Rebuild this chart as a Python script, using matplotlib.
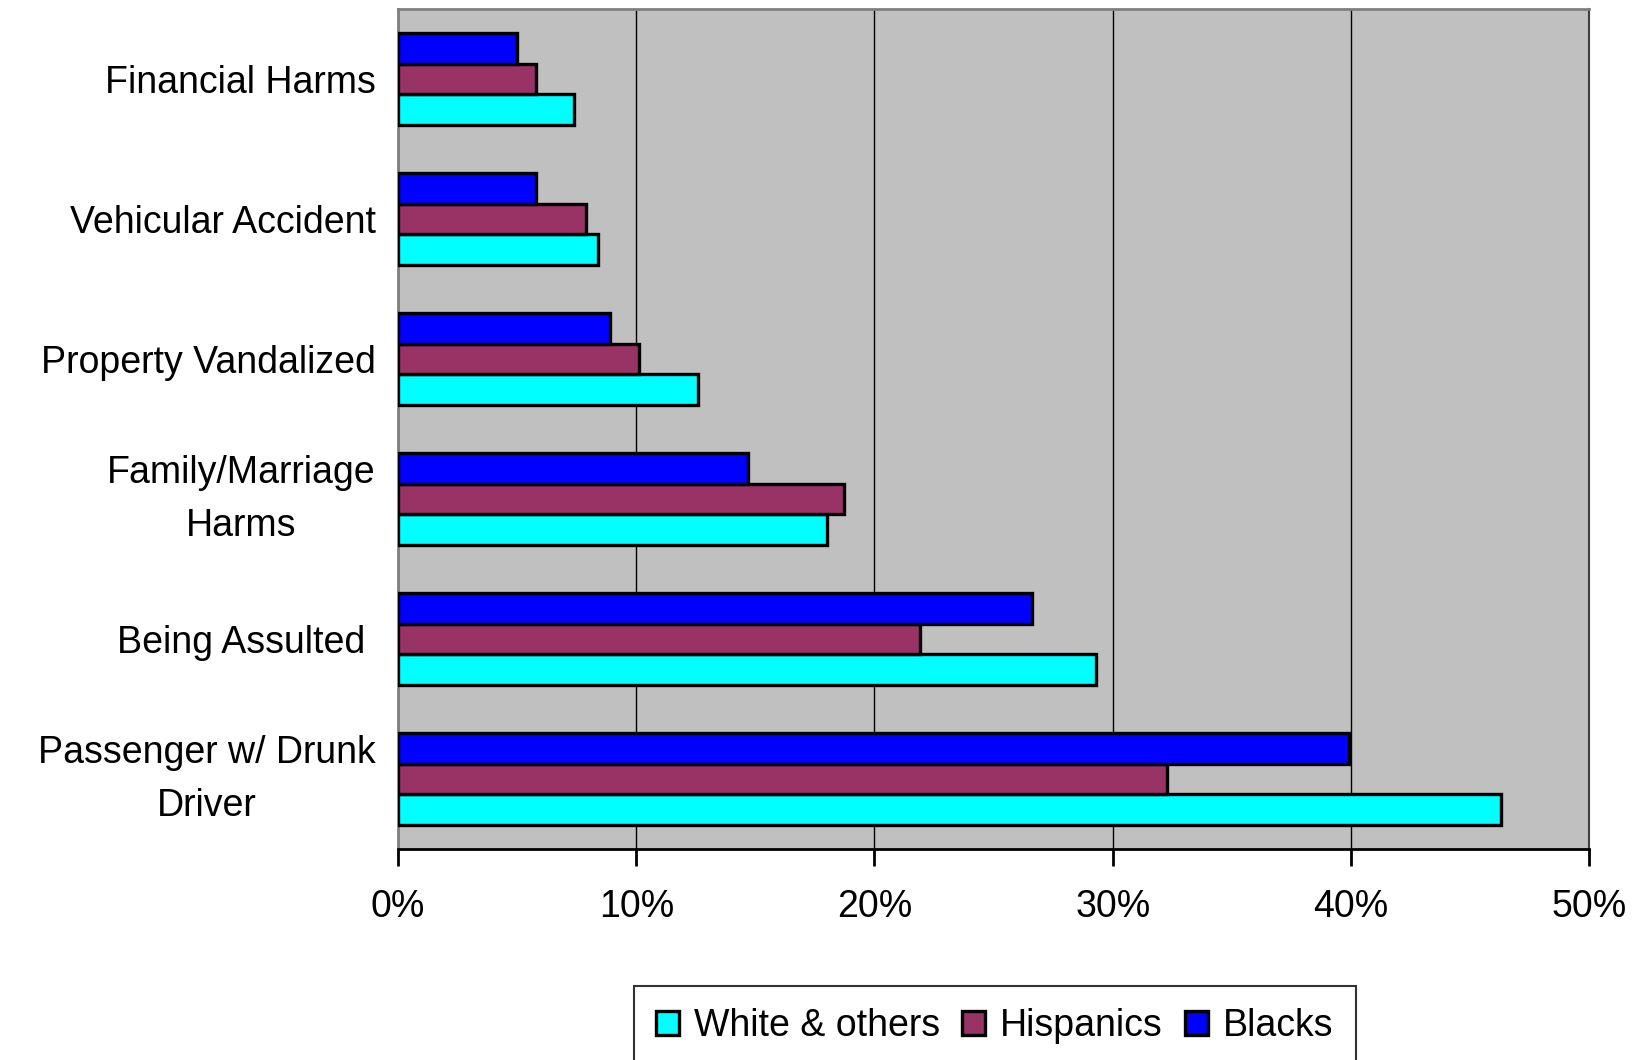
import matplotlib.pyplot as plt
import matplotlib.transforms as mtransforms
import numpy as np
from matplotlib.ticker import FuncFormatter

plt.rcParams["font.family"] = ["Liberation Sans", "DejaVu Sans"]

# Data (percent)
categories = [
    "Financial Harms",
    "Vehicular Accident",
    "Property Vandalized",
    "Family/Marriage\nHarms",
    "Being Assulted ",
    "Passenger w/ Drunk\nDriver",
]
white_others = [7.4, 8.4, 12.6, 18.0, 29.3, 46.3]
hispanics = [5.8, 7.9, 10.1, 18.7, 21.9, 32.3]
blacks = [5.0, 5.8, 8.9, 14.7, 26.6, 39.9]

series_names = ["White & others", "Hispanics", "Blacks"]
series_colors = ["#00FFFF", "#993366", "#0000FF"]

fig = plt.figure(figsize=(16.4, 10.6), dpi=100)
ax = fig.add_axes([0.2427, 0.199, 0.7263, 0.7925])
ax.set_facecolor("#C0C0C0")

y = np.arange(len(categories))
h = 0.217
offsets = [h, 0.0, -h]
handles = []
for values, name, color, off in zip(
    [white_others, hispanics, blacks], series_names, series_colors, offsets
):
    bars = ax.barh(
        y + off, values, height=h, color=color, edgecolor="black",
        linewidth=2.4, label=name, zorder=3,
    )
    handles.append(bars)

ax.set_xlim(0, 50)
ax.set_ylim(len(categories) - 0.5, -0.5)
ax.set_xticks(range(0, 51, 10))
ax.xaxis.set_major_formatter(FuncFormatter(lambda v, _: f"{v:.0f}%"))
ax.xaxis.grid(True, color="black", linewidth=1.0, zorder=1)
ax.set_axisbelow(True)

ax.set_yticks(y)
ax.set_yticklabels(categories, multialignment="center")
ax.tick_params(axis="y", length=0, pad=16, labelsize=27)
ax.tick_params(axis="x", length=12, width=2, direction="out", pad=17, labelsize=27)

# two-line labels sit a little higher in the original
shift_up = mtransforms.ScaledTranslation(0, 12 / 100, fig.dpi_scale_trans)
for lbl in ax.get_yticklabels():
    lbl.set_linespacing(1.6)
    if "\n" in lbl.get_text():
        lbl.set_transform(lbl.get_transform() + shift_up)

for side in ["left", "top"]:
    ax.spines[side].set_color("#808080")
    ax.spines[side].set_linewidth(2)
ax.spines["right"].set_color("#404040")
ax.spines["right"].set_linewidth(1.5)
ax.spines["bottom"].set_color("black")
ax.spines["bottom"].set_linewidth(2)

leg = fig.legend(
    handles=handles, labels=series_names, loc="upper center",
    bbox_to_anchor=(0.6065, 1 - 986 / 1060), ncol=3, fontsize=27,
    frameon=True, fancybox=False, edgecolor="black", handlelength=0.6,
    handleheight=0.6, handletextpad=0.4, columnspacing=0.6,
    borderpad=0.6, borderaxespad=0,
)
leg.get_frame().set_linewidth(1.5)

fig.savefig("out.png", dpi=100)
